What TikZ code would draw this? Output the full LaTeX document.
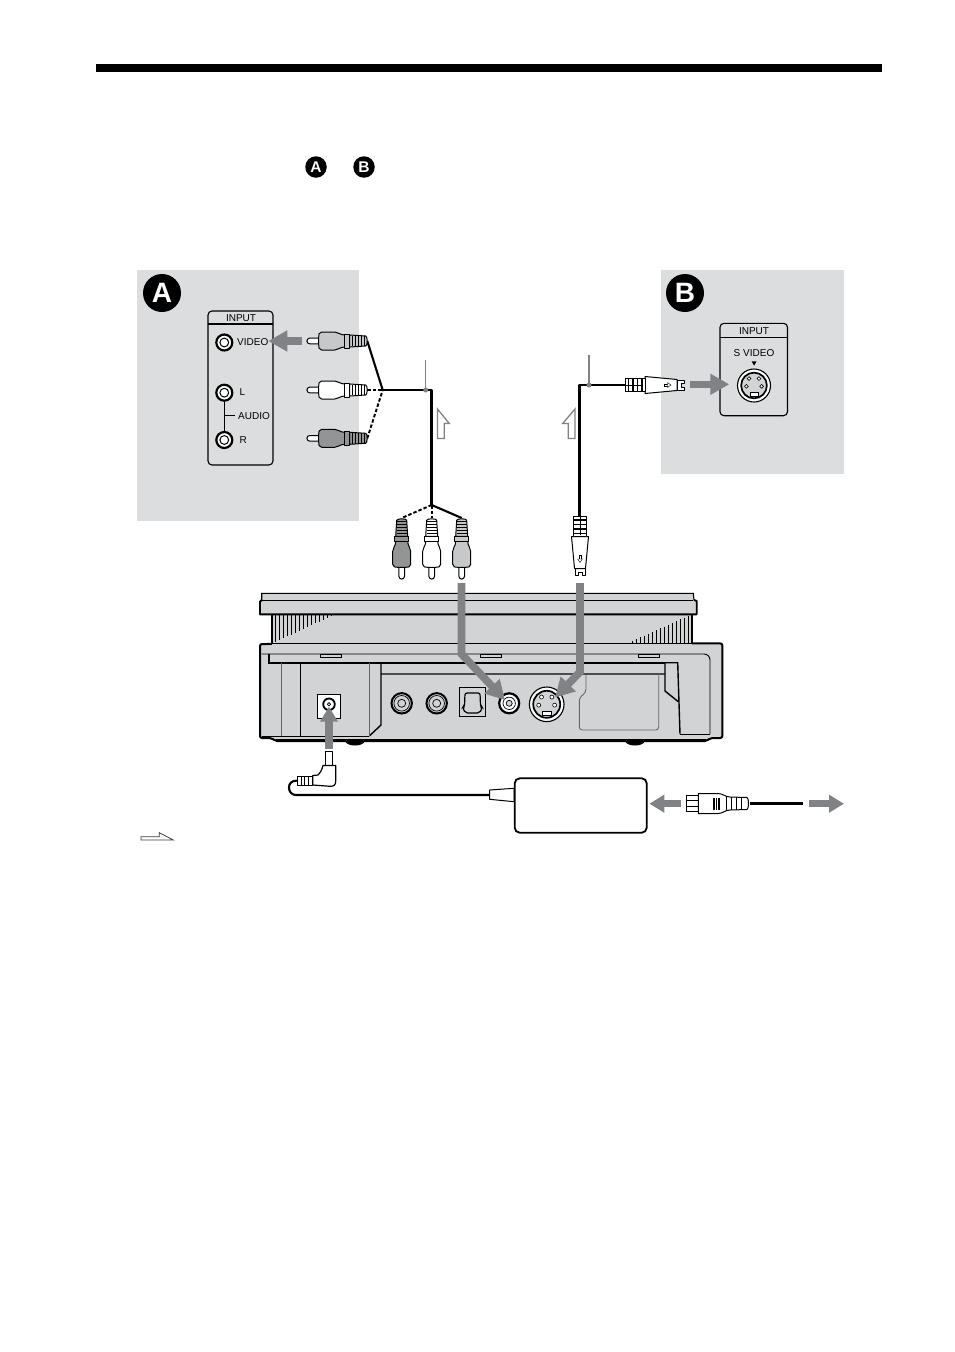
\documentclass[tikz,border=0pt]{standalone}
\usepackage{fontspec}
\setmainfont{Liberation Sans}
\usetikzlibrary{arrows.meta}
\definecolor{panelgray}{HTML}{DCDDDE}
\definecolor{devgray}{HTML}{D1D3D4}
\definecolor{arrowgray}{HTML}{808285}
\definecolor{plugdark}{HTML}{929496}
\definecolor{pluglight}{HTML}{C6C8CA}
\newcommand{\rcaplug}[1]{%
  \draw[plugline,fill=white] (3,-2.8) -- (12,-2.8) -- (12,2.8) -- (3,2.8) arc[start angle=90,end angle=270,radius=2.8] -- cycle;
  \draw[plugline,fill=#1] (15,-9) .. controls (12,-9) and (12,-6) .. (12,-4) -- (12,4) .. controls (12,6) and (12,9) .. (15,9) -- (28,9) .. controls (32,9) and (33,6) .. (38,6) -- (38,-6) .. controls (33,-6) and (32,-9) .. (28,-9) -- cycle;
  \draw[plugline,fill=#1] (38,-7) rectangle (43,7);
  \draw[plugline,fill=#1] (43,-6) -- (59,-5) .. controls (61,-5) and (61,5) .. (59,5) -- (43,6) -- cycle;
  \foreach \r in {46,49,52,55,58}{\draw[line width=.8pt] (\r,-5.2) -- (\r,5.2);}
}
\newcommand{\svplug}{%
  \draw[plugline,fill=white] (0,-5) -- (0,-2) -- (3,-2) -- (3,2) -- (0,2) -- (0,5) -- (7,5) -- (7,-5) -- cycle;
  \draw[plugline,fill=white] (7,-5.5) -- (39,-8.5) -- (39,8.5) -- (7,5.5) -- cycle;
  \draw[plugline,fill=white] (39,-6.5) rectangle (59,6.5);
  \foreach \r in {42,46.5,51,55.5}{\draw[line width=1.2pt] (\r,-6.5) -- (\r,6.5);}
  \draw[line width=1pt] (41,0) -- (59,0);
  \draw[line width=.4pt] (16,-1) rectangle (20,1);
  \draw[line width=.4pt,fill=white] (13,0) -- (16.5,-2.4) -- (16.5,2.4) -- cycle;
}
\newcommand{\jackround}[2]{%
  \fill[white] (#1,#2) circle (9);
  \draw[line width=2.2pt] (#1,#2) circle (8);
  \draw[line width=1pt] (#1,#2) circle (4.4);
}
\newcommand{\jackrear}[2]{%
  \draw[line width=2pt,fill=devgray] (#1,#2) circle (10.2);
  \draw[line width=.7pt] (#1,#2) circle (7.8);
  \draw[line width=.7pt] (#1,#2) circle (4);
}
\newcommand{\svjack}[3]{%
  \draw[line width=1.1pt,fill=white] (#1,#2) circle (#3);
  \draw[line width=1.7pt,fill=devgray] (#1,#2) circle (#3*.78);
  \foreach \dx/\dy in {-.3/-.42,.3/-.42,-.46/.05,.46/.05}{\draw[line width=.6pt,fill=white] (#1+#3*\dx,#2+#3*\dy) circle (#3*.115);}
  \draw[line width=.6pt,fill=white] (#1-#3*.25,#2+#3*.42) rectangle (#1+#3*.25,#2+#3*.64);
}
\tikzset{
  plugline/.style={line width=1pt,line join=round},
  cable/.style={line width=2.8pt,line join=round},
  thincable/.style={line width=2.1pt,line join=round},
  dashcable/.style={line width=1.9pt,dash pattern=on 3.5pt off 2pt},
  leader/.style={line width=1.2pt,color=arrowgray},
  flowbig/.style={line width=7.6pt,color=arrowgray,line join=miter,-{Triangle[length=19pt,width=20pt]}},
  flowsmall/.style={line width=7.2pt,color=arrowgray,-{Triangle[length=15pt,width=17pt]}},
  hollow/.style={draw=arrowgray,line width=1.3pt,fill=white},
  badge/.style={circle,fill=black,text=white,inner sep=0pt,minimum size=#1},
  lab/.style={inner sep=0pt,font=\fontsize{10}{11}\selectfont},
  inputbox/.style={draw=black,line width=1.1pt,rounded corners=4pt},
}
\begin{document}
\begin{tikzpicture}[x=1pt,y=-1pt]
\useasboundingbox (0,0) rectangle (954,1352);
\fill[white] (0,0) rectangle (954,1352);
% header bar
\fill[black] (96,64) rectangle (882,72.3);
\node[badge=21.5pt,font=\bfseries\fontsize{15.5}{15.5}\selectfont] (refa) at (316,167) {A};
\node[badge=21.5pt,font=\bfseries\fontsize{15.5}{15.5}\selectfont] (refb) at (364,167) {B};
% panels
\fill[panelgray] (137,270) rectangle (359,520.5);
\fill[panelgray] (661,270) rectangle (844,474);
\node[badge=38pt,font=\bfseries\fontsize{28}{28}\selectfont] (bada) at (162,293) {A};
\node[badge=38pt,font=\bfseries\fontsize{28}{28}\selectfont] (badb) at (685,293) {B};
% input box A
\draw[inputbox] (208,311) rectangle (273,465);
\draw[line width=1.1pt] (208,324) -- (273,324);
\node[lab] (inputa) at (241,318.3) {INPUT};
\draw[line width=1pt] (224.3,392) -- (224.3,440);
\draw[line width=1pt] (224.3,415.7) -- (235,415.7);
\jackround{224.3}{342.5}
\jackround{224.3}{392.7}
\jackround{224.3}{440}
\node[lab,anchor=west] (lvideo) at (237,342) {VIDEO};
\node[lab,anchor=west] (ll) at (239.5,392) {L};
\node[lab,anchor=west] (laudio) at (238,415.7) {AUDIO};
\node[lab,anchor=west] (lr) at (239.5,440) {R};
% input box B
\draw[inputbox] (720,323.3) rectangle (787.5,415.7);
\draw[line width=1.1pt] (720,337.3) -- (787.5,337.3);
\node[lab] (inputb) at (754,331) {INPUT};
\node[lab] (lsvideo) at (754,353.5) {S VIDEO};
\fill (751.6,361.3) -- (756.6,361.3) -- (754.1,365.6) -- cycle;
\svjack{754}{385.5}{16.5}
% device
\draw[fill=devgray,line width=2pt,line join=round,rounded corners=2pt] (260,650) -- (260,644) -- (722.3,643.4) -- (722.3,738) -- (710.5,738) -- (706.5,741) -- (275.5,741) -- (271.5,738) -- (260,738) -- cycle;
\draw[line width=3pt] (276,740.6) -- (706,740.6);
\fill (345,741) .. controls (347,747) and (363,747) .. (365,741) -- cycle;
\fill (625,741) .. controls (627,747) and (643,747) .. (645,741) -- cycle;
\fill[devgray] (271.7,612) rectangle (692.3,645);
\draw[line width=1.8pt] (271.7,612) -- (271.7,644);
\draw[line width=1.8pt] (692.3,612) -- (692.3,644);
\draw[line width=1.1pt] (271.7,643.3) -- (692.3,643.3);
\foreach \x in {275,279,...,333}{\pgfmathsetmacro{\yb}{642-(\x-275)*27/58}\draw[line width=.7pt] (\x,615) -- (\x,\yb);}
\foreach \x in {632,636,...,690}{\pgfmathsetmacro{\yt}{641-(\x-632)*26/58}\draw[line width=.7pt] (\x,\yt) -- (\x,643);}
\fill[devgray] (261.7,600) -- (261.7,593.3) -- (693.3,593.3) -- (694,600) -- (696.7,601) -- (696.7,614.3) -- (260,614.3) -- (260,601.7) -- cycle;
\draw[line width=1.1pt] (261.7,600) -- (261.7,593.3) -- (693.3,593.3) -- (694,600);
\draw[line width=1.9pt,line join=round] (694,600) -- (696.7,601) -- (696.7,614.3) -- (260,614.3) -- (260,601.7) -- (261.7,600);
\draw[line width=1pt] (261.7,600) -- (693.3,600);
% inner lines
\draw[line width=.9pt,rounded corners=6pt] (261.7,654) -- (710,654) -- (710,734);
\draw[line width=.9pt] (680,734) -- (710,734);
\draw[line width=1.7pt] (269,654) -- (269,663.3) -- (665,663.3);
\draw[line width=1.2pt,color=black!70] (381,674) -- (665,674);
\draw[line width=1.4pt] (665,662.7) -- (677.7,662.7) -- (680,734);
\draw[line width=1.4pt] (665,662.7) -- (665,691) -- (678.3,701.7);
\draw[line width=.9pt,fill=devgray] (320.7,654) rectangle (341.7,657);
\draw[line width=.9pt,fill=devgray] (480,654) rectangle (501,657);
\draw[line width=.9pt,fill=devgray] (638,654) rectangle (659,657);
\draw[line width=1.4pt] (381,663.3) -- (381,725) -- (369.3,736);
\draw[line width=1pt] (262,736) -- (369.3,736);
\draw[line width=.9pt,color=black!60] (369.3,663.3) -- (369.3,736);
\draw[line width=.9pt,color=black!60] (281,663.3) -- (281,736);
\draw[line width=.9pt] (300.7,663.3) -- (300.7,736);
\draw[line width=.9pt,color=black!60,rounded corners=3pt] (586,674) -- (586,692) -- (579.3,698) -- (579.3,730) -- (658.7,730) -- (658.7,674);
% jacks on device
\draw[line width=1pt,fill=white] (317.3,694.3) rectangle (340.7,718.3);
\draw[line width=1.8pt] (329,704.3) circle (5.8);
\draw[line width=.7pt] (329,704.3) circle (1.6);
\jackrear{401.7}{703.3}
\jackrear{436.7}{703.3}
\draw[line width=1pt] (459.3,687.3) rectangle (485.7,716.7);
\draw[line width=1.2pt,rounded corners=2pt] (465,693) -- (480,693) -- (480.5,706) -- (482.5,707.5) -- (479.5,713) -- (465.5,713) -- (462.5,707.5) -- (464.5,706) -- cycle;
\draw[line width=2.2pt,fill=white] (509.2,703.3) circle (10);
\draw[line width=.7pt] (509.2,703.3) circle (6.2);
\draw[line width=.7pt,fill=devgray] (509.2,703.3) circle (3);
\svjack{546.7}{704.3}{17.3}
% cables top
\coordinate (jn) at (382.7,390);
\coordinate (ca) at (431.7,390);
\coordinate (cb) at (431.7,505);
\coordinate (p1) at (367.3,341);
\coordinate (p2) at (367.3,390);
\coordinate (p3) at (367.3,438.3);
\coordinate (q1) at (401.7,518);
\coordinate (q2) at (431.7,518);
\coordinate (q3) at (461.7,518);
\draw[thincable] (p1) -- (jn);
\draw[dashcable] (p2) -- (jn);
\draw[dashcable] (p3) -- (jn);
\draw[cable] (jn) -- (ca) -- (cb);
\draw[dashcable] (cb) -- (q1);
\draw[dashcable] (cb) -- (q2);
\draw[thincable] (cb) -- (q3);
\coordinate (sa) at (579.3,517);
\coordinate (sb) at (579.3,385);
\coordinate (sc) at (626,385);
\draw[cable] (sa) -- (sb) -- (sc);
% leaders
\coordinate (l1) at (425.7,360);
\coordinate (l1d) at (425.7,390);
\coordinate (l2) at (589,355);
\coordinate (l2d) at (589,385);
\draw[leader] (l1) -- (l1d);
\fill[arrowgray] (l1d) circle (2.5);
\draw[leader] (l2) -- (l2d);
\fill[arrowgray] (l2d) circle (2.5);
% hollow direction arrows
\draw[hollow] (437.5,409) -- (437.5,438.5) -- (444.3,438.5) -- (444.3,423.5) -- (449.3,423.5) -- cycle;
\draw[hollow] (575,409) -- (575,438.5) -- (568.3,438.5) -- (568.3,423.5) -- (562.7,423.5) -- cycle;
% plugs
\begin{scope}[shift={(306.7,341)}]\rcaplug{pluglight}\end{scope}
\begin{scope}[shift={(306.7,390)}]\rcaplug{white}\end{scope}
\begin{scope}[shift={(306.7,438.3)}]\rcaplug{plugdark}\end{scope}
\begin{scope}[shift={(401.7,579.3)},rotate=90]\rcaplug{plugdark}\end{scope}
\begin{scope}[shift={(431.7,579.3)},rotate=90]\rcaplug{white}\end{scope}
\begin{scope}[shift={(461.7,579.3)},rotate=90]\rcaplug{pluglight}\end{scope}
\begin{scope}[shift={(684,385)},rotate=180]\svplug\end{scope}
\begin{scope}[shift={(580,575.5)},rotate=90]\svplug\end{scope}
% power
\coordinate (c1) at (297.7,780.5);
\coordinate (c2) at (489.5,795);
\draw[thincable] (c1) .. controls (291,780.5) and (289,784) .. (289,787.5) .. controls (289,792) and (292,795) .. (296,795) -- (c2);
\draw[plugline,fill=white] (325.7,765) -- (325.7,751.7) -- (332.3,751.7) -- (332.3,765) -- cycle;
\draw[plugline,fill=white,line width=1.2pt] (323,765.5) -- (335.7,765.5) -- (335.7,781) .. controls (335.7,785) and (334,786.3) .. (330,786.3) -- (312.7,785) -- (312.7,775.5) -- (318,775) .. controls (320,773) and (322,770) .. (323,765.5) -- cycle;
\draw[plugline,fill=white] (297.7,776.7) rectangle (312.7,785);
\foreach \r in {301,304.5,308}{\draw[line width=1pt] (\r,776.7) -- (\r,785);}
\draw[plugline,fill=white] (489.7,790) -- (514,788.3) -- (514,801.7) -- (489.7,799.3) -- cycle;
\draw[line width=1.8pt,fill=white,rounded corners=5pt] (514.7,778.3) rectangle (646.7,832.7);
\coordinate (w1) at (749.5,803.7);
\coordinate (w2) at (803.3,803.7);
\draw[cable] (w1) -- (w2);
\draw[plugline,fill=white] (686.7,795) rectangle (698.3,811.7);
\draw[line width=.8pt] (686.7,800.5) -- (698.3,800.5);
\draw[line width=.8pt] (686.7,806) -- (698.3,806);
\draw[plugline,fill=white] (698.3,793.5) -- (718,793.5) .. controls (723,793.5) and (725,797) .. (730,797) -- (747,797.5) .. controls (749,798) and (749,809) .. (747,809.5) -- (730,810) .. controls (725,810) and (723,813.5) .. (718,813.5) -- (698.3,813.5) -- cycle;
\fill (713,798) rectangle (720,809.5);
\foreach \r in {715.3,717.6}{\draw[white,line width=.6pt] (\r,798) -- (\r,809.5);}
\foreach \r in {726,731,736,741}{\draw[line width=.9pt] (\r,797) -- (\r,810);}
% gray flow arrows
\coordinate (f1a) at (302.3,341);\coordinate (f1b) at (268.3,341);
\coordinate (f2a) at (690,384.3);\coordinate (f2b) at (729.3,384.3);
\coordinate (f3a) at (461.5,583);\coordinate (f3m) at (461.5,654);\coordinate (f3b) at (505,700);
\coordinate (f4a) at (580,583);\coordinate (f4m) at (580,672);\coordinate (f4b) at (555,697.5);
\coordinate (f5a) at (329,749);\coordinate (f5b) at (329,706.7);
\coordinate (f6a) at (680.7,803.7);\coordinate (f6b) at (649.3,803.7);
\coordinate (f7a) at (809.3,803.7);\coordinate (f7b) at (844,803.7);
\draw[flowbig] (f1a) -- (f1b);
\draw[flowbig] (f2a) -- (f2b);
\draw[flowbig] (f3a) -- (f3m) -- (f3b);
\draw[flowbig] (f4a) -- (f4m) -- (f4b);
\draw[flowsmall] (f5a) -- (f5b);
\draw[flowsmall] (f6a) -- (f6b);
\draw[flowsmall] (f7a) -- (f7b);
% legend arrow
\draw[line width=.8pt,color=black!75,fill=white,line join=miter] (141,836.7) -- (159.3,836.7) -- (159.3,832.7) -- (173.3,840) -- (141,840) -- cycle;
\end{tikzpicture}
\end{document}
